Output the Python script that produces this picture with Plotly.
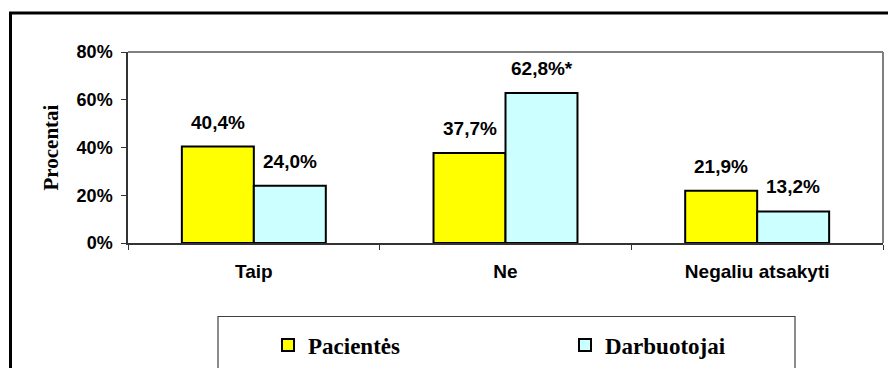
import plotly.graph_objects as go

# Survey answers: share of respondents per answer, by group
categories = ["Taip", "Ne", "Negaliu atsakyti"]
pacientes = [40.4, 37.7, 21.9]
darbuotojai = [24.0, 62.8, 13.2]
# statistically significant difference marker per category (Darbuotojai)
darbuotojai_signif = [False, True, False]
y_ticks = [0, 20, 40, 60, 80]
y_tick_labels = [f"{v}%" for v in y_ticks]

W, H = 888, 368
L, R, T, B = 128, 5, 52, 125
PW, PH = W - L - R, H - T - B


def px_x(px):
    return (px - L) / PW


def px_y(py):
    return (H - B - py) / PH


def fmt(v, star=False):
    s = f"{v:.1f}%".replace(".", ",")
    return s + ("*" if star else "")


sans = "Liberation Sans, Arial, sans-serif"
serif = "Liberation Serif, Times New Roman, serif"

fig = go.Figure()
fig.add_trace(go.Bar(
    name="Pacientės", x=categories, y=pacientes,
    marker=dict(color="#FFFF00", line=dict(color="#000000", width=2)),
))
fig.add_trace(go.Bar(
    name="Darbuotojai", x=categories, y=darbuotojai,
    marker=dict(color="#CCFFFF", line=dict(color="#000000", width=2)),
))

label_font = dict(family=sans, size=19, color="#000", weight="bold")
annotations = []
for cat, v in zip(categories, pacientes):
    annotations.append(dict(
        x=cat, y=v, xref="x", yref="y", xshift=-36, yshift=12,
        text=fmt(v), showarrow=False, yanchor="bottom", font=label_font,
    ))
for cat, v, s in zip(categories, darbuotojai, darbuotojai_signif):
    annotations.append(dict(
        x=cat, y=v, xref="x", yref="y", xshift=36, yshift=12,
        text=fmt(v, s), showarrow=False, yanchor="bottom", font=label_font,
    ))
annotations.append(dict(
    x=px_x(50), y=0.5, xref="paper", yref="paper", text="Procentai",
    textangle=-90, showarrow=False, xanchor="center", yanchor="middle",
    font=dict(family=serif, size=21, color="#000", weight="bold"),
))

shapes = [
    # outer chart frame (open to the right and bottom)
    dict(type="rect", xref="paper", yref="paper",
         x0=px_x(10.5), x1=px_x(895), y0=px_y(380), y1=px_y(13),
         line=dict(color="#000000", width=3), layer="above"),
    # plot area top and right edges
    dict(type="line", xref="paper", yref="paper", x0=0, x1=1, y0=1, y1=1,
         line=dict(color="#808080", width=2)),
    dict(type="line", xref="paper", yref="paper", x0=1, x1=1, y0=0, y1=1,
         line=dict(color="#808080", width=2)),
    # legend frame
    dict(type="rect", xref="paper", yref="paper",
         x0=px_x(218), x1=px_x(795), y0=px_y(380), y1=px_y(316.5),
         line=dict(color="#404040", width=1.2)),
]

fig.update_layout(
    width=W, height=H,
    margin=dict(l=L, r=R, t=T, b=B, autoexpand=False),
    paper_bgcolor="white", plot_bgcolor="white",
    barmode="group", bargap=0.428, bargroupgap=0,
    showlegend=True,
    legend=dict(
        orientation="h", x=px_x(268), xanchor="left",
        y=px_y(345), yanchor="middle",
        entrywidth=252, entrywidthmode="pixels",
        font=dict(family=serif, size=23, color="#000", weight="bold"),
        bgcolor="rgba(0,0,0,0)", borderwidth=0,
    ),
    annotations=annotations,
    shapes=shapes,
)

fig.update_xaxes(
    type="category", showgrid=False, showline=True,
    linecolor="#333333", linewidth=2,
    ticks="outside", tickson="boundaries", ticklen=5, tickcolor="#333333",
    ticklabelstandoff=10,
    tickfont=dict(family=sans, size=19, color="#000", weight="bold"),
)
fig.update_yaxes(
    range=[0, 80], tickvals=y_ticks, ticktext=y_tick_labels,
    showgrid=False, zeroline=False, showline=True,
    linecolor="#333333", linewidth=1.5,
    ticks="outside", ticklen=5, tickcolor="#333333",
    ticklabelstandoff=5,
    tickfont=dict(family=sans, size=18, color="#000", weight="bold"),
)

fig.write_html("out.html")
